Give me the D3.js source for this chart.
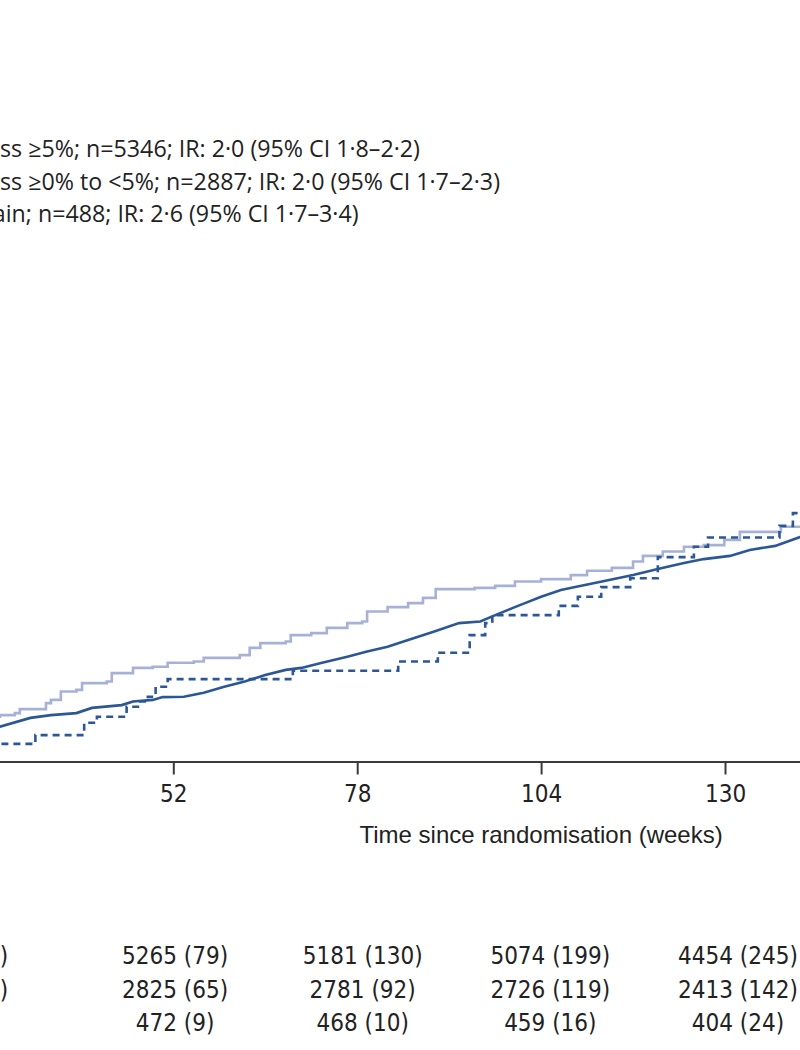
<!DOCTYPE html>
<html>
<head>
<meta charset="utf-8">
<script src="https://cdnjs.cloudflare.com/ajax/libs/d3/7.8.5/d3.min.js"></script>
<style>
body { margin: 0; background: #fff; }
svg { display: block; }
</style>
</head>
<body>
<div id="chart"></div>
<script>
// legend labels (the left part is cut off by the frame, as in the source)
let legendLabels = [
    "Weight loss \u22655%; n=5346; IR: 2\u00b70 (95% CI 1\u00b78\u20132\u00b72)",
    "Weight loss \u22650% to <5%; n=2887; IR: 2\u00b70 (95% CI 1\u00b77\u20132\u00b73)",
    "Weight gain; n=488; IR: 2\u00b76 (95% CI 1\u00b77\u20133\u00b74)"
]

let tickWeeks = [0, 26, 52, 78, 104, 130, 156, 182, 208]
let labelledWeeks = [52, 78, 104, 130]

// cumulative incidence (%): [week, percent]
let loss5 = [
    [26, 0.84], [27.5, 0.87], [31.8, 1.09], [34.7, 1.16], [38.3, 1.21], [40.5, 1.34],
    [44.7, 1.41], [46.3, 1.50], [49.1, 1.54], [50.5, 1.61], [53.5, 1.62], [56.3, 1.72],
    [59.2, 1.87], [62.1, 2.00], [65.0, 2.16], [67.9, 2.29], [70.1, 2.34], [72.9, 2.46],
    [76.6, 2.62], [79.4, 2.75], [82.3, 2.87], [85.2, 3.04], [88.9, 3.25], [92.4, 3.46],
    [95.4, 3.50], [98.2, 3.71], [101.0, 3.91], [104.0, 4.12], [106.8, 4.29], [109.0, 4.37],
    [112.6, 4.50], [117.0, 4.66], [120.5, 4.81], [124.2, 4.96], [127.0, 5.06], [130.7, 5.14],
    [133.5, 5.29], [137.1, 5.39], [140.6, 5.61], [143, 5.68]
]
let loss0to5 = [
    [26, 1.12], [27.5, 1.16], [29.6, 1.21], [30.3, 1.31], [34.0, 1.46], [34.7, 1.54],
    [36.1, 1.75], [38.3, 1.79], [39.1, 1.96], [42.6, 2.00], [43.3, 2.21], [46.3, 2.34],
    [49.1, 2.37], [51.2, 2.47], [54.9, 2.50], [56.3, 2.59], [61.4, 2.66], [62.8, 2.84],
    [64.3, 2.96], [67.9, 3.00], [68.6, 3.16], [71.5, 3.21], [73.7, 3.34], [76.6, 3.46],
    [78.7, 3.50], [79.4, 3.75], [82.3, 3.86], [85.2, 3.96], [87.3, 4.09], [89.1, 4.31],
    [94.6, 4.34], [97.5, 4.39], [100.3, 4.50], [104.0, 4.56], [108.2, 4.66], [110.5, 4.77],
    [114.0, 4.84], [117.0, 5.00], [118.4, 5.14], [121.2, 5.25], [124.2, 5.37], [127.0, 5.41],
    [129.9, 5.54], [132.1, 5.74], [137.9, 5.87], [143, 5.90]
]
let gain = [
    [26, 0.44], [32.5, 0.66], [39.4, 0.97], [41.2, 1.12], [45.4, 1.37], [47.0, 1.50],
    [48.4, 1.62], [49.5, 1.87], [51.2, 2.06], [68.9, 2.27], [83.8, 2.50], [89.4, 2.72],
    [93.9, 3.16], [96.1, 3.46], [97.1, 3.66], [106.5, 3.89], [109.2, 4.12], [112.5, 4.36],
    [116.6, 4.58], [120.5, 5.11], [125.6, 5.37], [127.6, 5.60], [137.7, 5.89], [139.6, 6.21],
    [143, 6.21]
]

// number at risk (cumulative events)
let riskWeeks = [26, 52, 78, 104, 130]
let riskLoss5 = ["5312 (38)", "5265 (79)", "5181 (130)", "5074 (199)", "4454 (245)"]
let riskLoss0to5 = ["2856 (31)", "2825 (65)", "2781 (92)", "2726 (119)", "2413 (142)"]
let riskGain = ["480 (4)", "472 (9)", "468 (10)", "459 (16)", "404 (24)"]

function displayChart() {
    let width = 800,
        height = 1050
    let dark = "#2c5796",
        light = "#a7b1d5",
        ink = "#222"
    let numFont = "'DejaVu Sans Condensed', 'Liberation Sans Narrow', sans-serif"
    let textFont = "'Open Sans', 'Liberation Sans', sans-serif"
    let svg = d3.select("#chart").append("svg")
        .attr("width", width)
        .attr("height", height)

    let xScale = d3.scaleLinear()
        .domain([0, 208])
        .range([-194.5, 1276.7])
    let yScale = d3.scaleLinear()
        .domain([0, 10])
        .range([761.5, 361.5])
    // risk table columns sit slightly off the tick grid in the source
    let tableX = d3.scaleLinear()
        .domain([26, 52, 130])
        .range([-45, 175, 738])

    let series = [
        { data: loss5, color: dark, dash: null, curve: d3.curveLinear },
        { data: loss0to5, color: light, dash: null, curve: d3.curveStepAfter },
        { data: gain, color: dark, dash: "7,5", curve: d3.curveStepAfter }
    ]

    series.forEach(function(s) {
        let line = d3.line()
            .x(function(d) { return xScale(d[0]); })
            .y(function(d) { return yScale(d[1]); })
            .curve(s.curve)
        svg.append("path")
            .datum(s.data)
            .attr("fill", "none")
            .attr("stroke", s.color)
            .attr("stroke-width", 2.6)
            .attr("stroke-dasharray", s.dash)
            .attr("d", line)
    })

    // x axis
    let xAxis = d3.axisBottom(xScale)
        .tickValues(tickWeeks)
        .tickFormat(function(d) { return labelledWeeks.indexOf(d) >= 0 ? d : ""; })
        .tickSize(13)
        .tickSizeOuter(0)
        .tickPadding(10)
    let ax = svg.append("g")
        .attr("transform", "translate(0," + yScale(0) + ")")
        .call(xAxis)
    ax.select(".domain").attr("stroke", "#3a3a3a").attr("stroke-width", 2)
    ax.selectAll(".tick line").attr("stroke", "#3a3a3a").attr("stroke-width", 2)
    ax.selectAll(".tick text")
        .attr("fill", ink)
        .style("font-family", numFont)
        .style("font-size", "24px")

    svg.append("text")
        .attr("x", xScale(104))
        .attr("y", 843)
        .attr("text-anchor", "middle")
        .attr("fill", ink)
        .style("font-family", "'Liberation Sans', Arial, sans-serif")
        .style("font-size", "24px")
        .text("Time since randomisation (weeks)")

    // legend: fit the font so the visible part of the first label spans 0..420
    let legend = svg.append("g")
    let legendY = [157, 189.5, 222]
    let probe = legend.append("text")
        .style("font-family", textFont)
        .style("font-size", "21px")
        .text(legendLabels[0])
    let full = probe.node().getComputedTextLength()
    let hidden = probe.node().getSubStringLength(0, 9)
    let fontSize = 21 * 420 / (full - hidden)
    let x0 = -hidden * fontSize / 21
    probe.remove()
    legendLabels.forEach(function(label, i) {
        legend.append("line")
            .attr("x1", x0 - 70).attr("x2", x0 - 15)
            .attr("y1", legendY[i] - 7).attr("y2", legendY[i] - 7)
            .attr("stroke", series[i].color)
            .attr("stroke-width", 2.6)
            .attr("stroke-dasharray", series[i].dash)
        legend.append("text")
            .attr("x", x0)
            .attr("y", legendY[i])
            .attr("fill", ink)
            .style("font-family", textFont)
            .style("font-size", fontSize + "px")
            .text(label)
    })

    // number at risk
    let rows = [riskLoss5, riskLoss0to5, riskGain]
    let rowY = [964, 998, 1031]
    rows.forEach(function(row, r) {
        svg.selectAll(".risk" + r)
            .data(row)
            .enter()
            .append("text")
            .attr("class", "risk" + r)
            .attr("x", function(d, i) { return tableX(riskWeeks[i]); })
            .attr("y", rowY[r])
            .attr("text-anchor", "middle")
            .attr("fill", ink)
            .style("font-family", numFont)
            .style("font-size", "24px")
            .text(function(d) { return d; })
    })
}

displayChart()
</script>
</body>
</html>
